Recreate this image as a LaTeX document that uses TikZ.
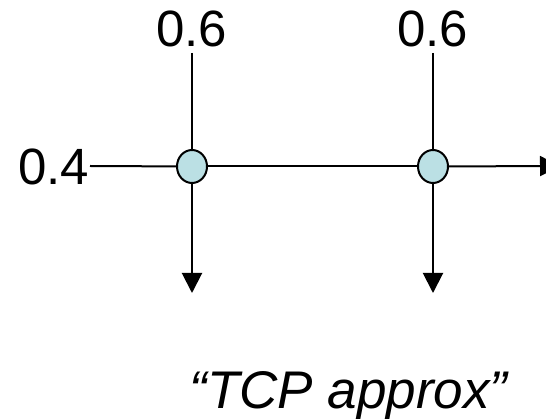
\documentclass[tikz,border=0pt]{standalone}
\usepackage{fontspec}
\setmainfont{Liberation Sans}
\usetikzlibrary{arrows.meta,shapes.geometric}
\definecolor{nodefill}{RGB}{187,224,228}
\begin{document}
\begin{tikzpicture}[x=1pt,y=-1pt,
  conn/.style={line width=2pt,draw=black},
  arr/.style={conn,-{Triangle[length=20pt,width=20pt]}},
  junction/.style={ellipse,draw=black,line width=2pt,fill=nodefill,
    minimum width=30pt,minimum height=33pt,inner sep=0pt},
  numlabel/.style={inner sep=0pt,font=\fontsize{51}{60}\selectfont},
  caption/.style={inner sep=0pt,font=\fontsize{53}{62}\selectfont\itshape}]
\useasboundingbox (0,0) rectangle (546,419);
\clip (0,0) rectangle (546,419);
\node[junction] (c1) at (192,166.5) {};
\node[junction] (c2) at (433,166.5) {};
\node[numlabel,anchor=base] (t1) at (191.5,47) {0.6};
\node[numlabel,anchor=base] (t2) at (432.5,47) {0.6};
\node[numlabel,anchor=base west] (t3) at (18,185) {0.4};
\node[caption,anchor=base] (cap) at (348.5,408) {“TCP approx”};
\coordinate (a1) at (192,53);
\coordinate (a2) at (433,53);
\coordinate (l0) at (90,166);
\coordinate (d1) at (192,293);
\coordinate (d2) at (433,293);
\coordinate (e) at (560,166);
\draw[conn] (a1) -- (c1);
\draw[conn] (a2) -- (c2);
\draw[conn] (l0) -- (c1);
\draw[conn] (c1) -- (c2);
\draw[arr] (c1) -- (d1);
\draw[arr] (c2) -- (d2);
\draw[arr] (c2) -- (e);
\end{tikzpicture}
\end{document}
